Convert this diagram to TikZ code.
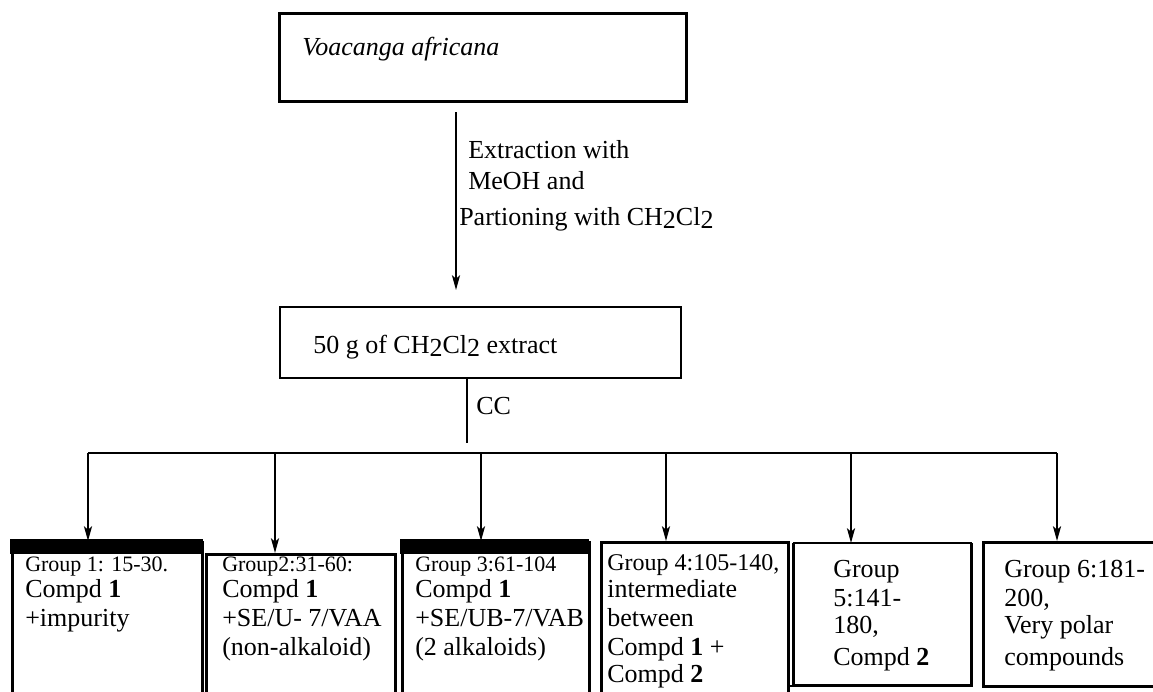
\documentclass[tikz,border=0pt]{standalone}
\usepackage{fontspec}
\setmainfont{Liberation Serif}
\usetikzlibrary{arrows.meta,calc}
\newcommand{\lowtwo}{\raisebox{-0.15em}{2}}
\begin{document}
\begin{tikzpicture}[x=0.75pt,y=-0.75pt,
  txt/.style={anchor=base west, inner sep=0, font=\fontsize{19.5}{22}\selectfont},
  smtxt/.style={anchor=base west, inner sep=0, font=\fontsize{16.5}{19}\selectfont},
  mdtxt/.style={anchor=base west, inner sep=0, font=\fontsize{18}{20}\selectfont},
  boxnode/.style={draw, line width=2.25pt, anchor=north west, inner sep=0},
  conn/.style={line width=1.5pt},
  arr/.style={conn, -{Stealth[length=11pt,width=6pt,inset=2.5pt]}}
]
\useasboundingbox (0,0) rectangle (1153,692);
\clip (0,0) rectangle (1153,692);

% top and middle boxes
\node[boxnode, minimum width=305.25pt, minimum height=66pt] (top) at (278,12) {};
\node[boxnode, line width=1.5pt, minimum width=300.75pt, minimum height=53.25pt] (mid) at (279,306) {};
\node[txt, font=\itshape\fontsize{19.5}{22}\selectfont] (vtxt) at (302,56) {Voacanga africana};
\node[txt] (mtxt) at (313,353) {50 g of CH\lowtwo Cl\lowtwo\ extract};

% first arrow
\coordinate (ax) at (456,200);
\draw[arr, shorten <=6.75pt, shorten >=12pt] (top.south -| ax) -- (mid.north -| ax);
\node[txt] (l1) at (468,158) {Extraction with};
\node[txt] (l2) at (468,189) {MeOH and};
\node[txt] (l3) at (459,225) {Partioning with CH\lowtwo Cl\lowtwo};

% CC
\coordinate (ccx) at (467,443);
\draw[conn, line width=1.2pt] (mid.south -| ccx) -- (ccx);
\node[txt] (cc) at (476,414) {CC};

% bus
\coordinate (b1) at (88,453);
\coordinate (b2) at (275,453);
\coordinate (b3) at (481,453);
\coordinate (b4) at (666,453);
\coordinate (b5) at (851,453);
\coordinate (b6) at (1057,453);
\draw[conn, line width=2pt] (b1) -- (b6);

% bottom boxes
\node[boxnode, minimum width=142.5pt, minimum height=120pt] (g1) at (11,541) {};
\fill (10,539) rectangle (203,554);
\node[boxnode, minimum width=141.75pt, minimum height=112.5pt] (g2) at (205,553) {};
\node[boxnode, minimum width=140.25pt, minimum height=120pt] (g3) at (401,541) {};
\fill (400,539) rectangle (589,554);
\node[boxnode, minimum width=140.25pt, minimum height=120pt] (g4) at (600,541) {};
\node[anchor=north west, inner sep=0, minimum width=133.5pt, minimum height=106.5pt] (g5) at (793,543) {};
\draw[line width=2.25pt] (g5.north west) -- (g5.south west) -- (g5.south east) -- (g5.north east);
\draw[line width=1.5pt] (g5.north west) -- (g5.north east);
\draw[line width=1.5pt] (g4.east |- g5.south) -- (g5.south west);
\node[boxnode, minimum width=135pt, minimum height=108pt] (g6) at (982,541) {};

\draw[arr] (b1) -- (b1 |- g1.north);
\draw[arr] (b2) -- (b2 |- g2.north);
\draw[arr] (b3) -- (b3 |- g3.north);
\draw[arr] (b4) -- (b4 |- g4.north);
\draw[arr] (b5) -- (b5 |- g5.north);
\draw[arr] (b6) -- (b6 |- g6.north);

% texts
\node[smtxt] (t1a) at (25,571) {Group 1: 15-30.};
\node[txt] (t1b) at (25,597) {Compd \textbf{1}};
\node[txt] (t1c) at (25,626) {+impurity};

\node[smtxt] (t2a) at (222,571) {Group2:31-60:};
\node[txt] (t2b) at (222,597) {Compd \textbf{1}};
\node[txt] (t2c) at (222,626) {+SE/U- 7/VAA};
\node[txt] (t2d) at (222,655) {(non-alkaloid)};

\node[smtxt] (t3a) at (415,571) {Group 3:61-104};
\node[txt] (t3b) at (415,597) {Compd \textbf{1}};
\node[txt] (t3c) at (415,626) {+SE/UB-7/VAB};
\node[txt] (t3d) at (415,655) {(2 alkaloids)};

\node[mdtxt] (t4a) at (607,570) {Group 4:105-140,};
\node[txt] (t4b) at (607,597) {intermediate};
\node[txt] (t4c) at (607,626) {between};
\node[txt] (t4d) at (607,655) {Compd \textbf{1} +};
\node[txt] (t4e) at (607,682) {Compd \textbf{2}};

\node[txt] (t5a) at (833,577) {Group};
\node[txt] (t5b) at (833,606) {5:141-};
\node[txt] (t5c) at (833,633) {180,};
\node[txt] (t5d) at (833,665) {Compd \textbf{2}};

\node[txt] (t6a) at (1004,577) {Group 6:181-};
\node[txt] (t6b) at (1004,606) {200,};
\node[txt] (t6c) at (1004,633) {Very polar};
\node[txt] (t6d) at (1004,665) {compounds};
\end{tikzpicture}
\end{document}
